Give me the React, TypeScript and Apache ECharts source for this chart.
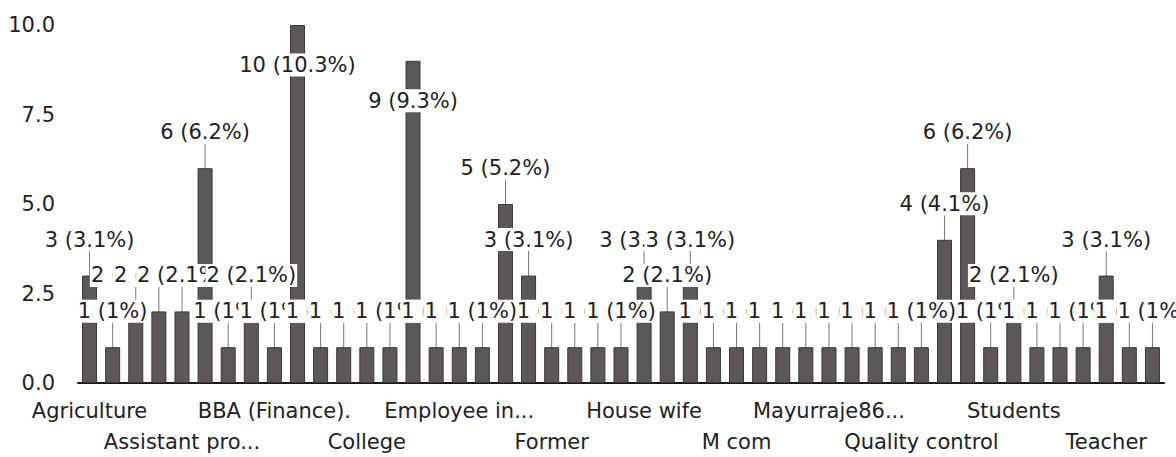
import React, { useEffect, useRef } from "react";
import * as echarts from "echarts";

const categories: string[] = [
  "Agriculture", "", "", "", "Assistant pro...", "", "", "", "BBA (Finance).", "", "", "",
  "College", "", "", "", "Employee in...", "", "", "", "Former", "", "", "",
  "House wife", "", "", "", "M com", "", "", "", "Mayurraje86...", "", "", "",
  "Quality control", "", "", "", "Students", "", "", "", "Teacher", "", "",
];

const counts: number[] = [
  3, 1, 2, 2, 2, 6, 1, 2, 1, 10,
  1, 1, 1, 1, 9, 1, 1, 1, 5, 3,
  1, 1, 1, 1, 3, 2, 3, 1, 1, 1,
  1, 1, 1, 1, 1, 1, 1, 4, 6, 1,
  2, 1, 1, 1, 3, 1, 1,
];

const yTicks = { min: 0, max: 10, interval: 2.5 };

const total = counts.reduce((a, b) => a + b, 0);
const FONT = "DejaVu Sans";

const labelBase = {
  color: "#222",
  fontFamily: FONT,
  fontSize: 21,
  hideOverlap: false,
};

export default function App() {
  const ref = useRef<HTMLDivElement>(null);
  useEffect(() => {
    if (!ref.current) return;
    const chart = echarts.init(ref.current, null, { renderer: "svg" });
    chart.setOption({
      animation: false,
      backgroundColor: "#ffffff",
      grid: { left: 78, right: 12, top: 25, bottom: 74, containLabel: false },
      xAxis: [
        {
          type: "category",
          data: categories,
          axisLine: { show: true, lineStyle: { color: "#1a1a1a", width: 2 } },
          axisTick: { show: false },
          axisLabel: {
            ...labelBase,
            interval: (i: number) => i % 8 === 0,
            showMinLabel: true,
            showMaxLabel: true,
            margin: 17,
          },
        },
        {
          type: "category",
          data: categories,
          position: "bottom",
          axisLine: { show: false },
          axisTick: { show: false },
          axisLabel: {
            ...labelBase,
            interval: (i: number) => i % 8 === 4,
            showMinLabel: true,
            showMaxLabel: true,
            margin: 48,
          },
        },
      ],
      yAxis: {
        type: "value",
        min: yTicks.min,
        max: yTicks.max,
        interval: yTicks.interval,
        axisLine: { show: false },
        axisTick: { show: false },
        splitLine: { show: false },
        axisLabel: {
          ...labelBase,
          margin: 23,
          showMinLabel: true,
          formatter: (v: number) => v.toFixed(1),
        },
      },
      series: [
        {
          type: "bar",
          xAxisIndex: 0,
          barWidth: 15,
          data: counts.map((v) => ({
            value: v,
            labelLine: { show: v < 9 },
          })),
          itemStyle: { color: "#5e575a", borderColor: "#3a3838", borderWidth: 1 },
          label: {
            show: true,
            position: "top",
            distance: 5,
            color: "#222",
            fontFamily: FONT,
            fontSize: 21,
            backgroundColor: "#ffffff",
            padding: [1, 1],
            formatter: (p: any) => {
              const pct = Math.round((p.value / total) * 1000) / 10;
              return `${p.value} (${pct}%)`;
            },
          },
          labelLine: { show: true, lineStyle: { color: "#777", width: 1 } },
          labelLayout: (p: any) => {
            const v = counts[p.dataIndex];
            const r = p.rect;
            const lr = p.labelRect;
            const cur = lr.y + lr.height / 2;
            const target = v >= 9 ? r.y + 40 : r.y - 36;
            return { dy: target - cur };
          },
        },
      ],
    });
    return () => chart.dispose();
  }, []);
  return (
    <div
      ref={ref}
      style={{ position: "fixed", left: 0, top: 0, width: 1176, height: 457 }}
    />
  );
}
